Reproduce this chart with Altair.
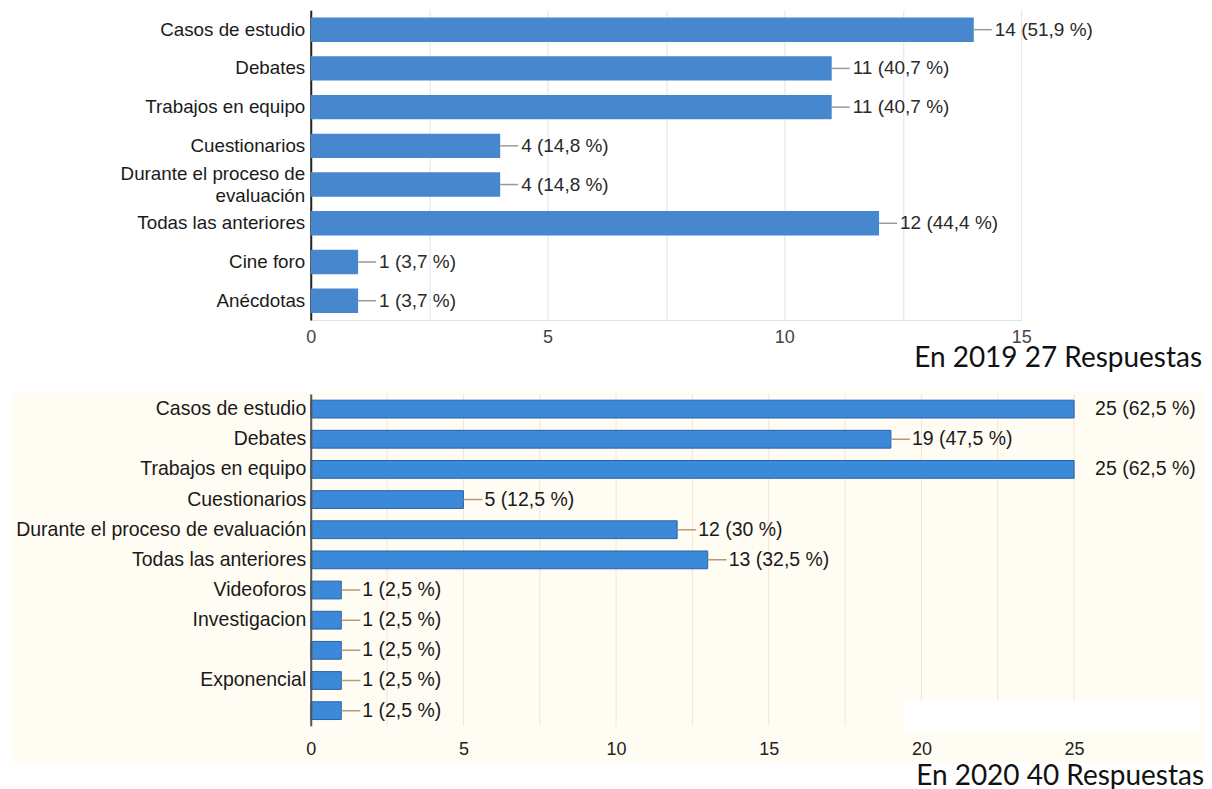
import altair as alt
import pandas as pd

# ---- data ----
cats19 = ["Casos de estudio", "Debates", "Trabajos en equipo", "Cuestionarios",
          "Durante el proceso de evaluación", "Todas las anteriores", "Cine foro", "Anécdotas"]
vals19 = [14, 11, 11, 4, 4, 12, 1, 1]
labs19 = ["14 (51,9 %)", "11 (40,7 %)", "11 (40,7 %)", "4 (14,8 %)", "4 (14,8 %)",
          "12 (44,4 %)", "1 (3,7 %)", "1 (3,7 %)"]

cats20 = ["Casos de estudio", "Debates", "Trabajos en equipo", "Cuestionarios",
          "Durante el proceso de evaluación", "Todas las anteriores", "Videoforos",
          "Investigacion", " ", "Exponencial", "  "]
vals20 = [25, 19, 25, 5, 12, 13, 1, 1, 1, 1, 1]
labs20 = ["25 (62,5 %)", "19 (47,5 %)", "25 (62,5 %)", "5 (12,5 %)", "12 (30 %)",
          "13 (32,5 %)", "1 (2,5 %)", "1 (2,5 %)", "1 (2,5 %)", "1 (2,5 %)", "1 (2,5 %)"]

ticks19 = [0, 2.5, 5, 7.5, 10, 12.5, 15]
ticks20 = [0, 2.5, 5, 7.5, 10, 12.5, 15, 17.5, 20, 22.5, 25]
title19 = "En 2019 27 Respuestas"
title20 = "En 2020 40 Respuestas"

df19 = pd.DataFrame({"cat": cats19, "n": vals19, "lab": labs19})
df20 = pd.DataFrame({"cat": cats20, "n": vals20, "lab": labs20})
grid20 = pd.DataFrame({"n": ticks20})

FONT = "Liberation Sans"
W19, H19 = 711, 310
W20, H20 = 764, 332

# ---- top chart (2019) ----
wrap_test = "datum.value == 'Durante el proceso de evaluación'"
y19 = alt.Y("cat:N", sort=cats19, title=None,
            scale=alt.Scale(paddingInner=0.37, paddingOuter=0.185),
            axis=alt.Axis(labelFont=FONT, labelFontSize=18.8, labelColor="#1a1a1a",
                          labelPadding=6, ticks=False, domainColor="#222", domainWidth=2,
                          minExtent=303, labelLimit=400, grid=False, labelLineHeight=22,
                          labelOffset={"condition": {"test": wrap_test, "value": -11},
                                       "value": 0},
                          labelExpr=wrap_test + " ? ['Durante el proceso de', 'evaluación']"
                                                " : datum.label"))
x19 = alt.X("n:Q", title=None, scale=alt.Scale(domain=[0, 15], nice=False),
            axis=alt.Axis(values=ticks19, labelExpr="datum.value % 5 == 0 ? datum.label : ''",
                          grid=True, gridColor="#e2e2e2", ticks=False, tickSize=0,
                          domainColor="#e2e2e2", labelFont=FONT, labelFontSize=18,
                          labelColor="#444", labelPadding=8, labelFlush=False,
                          labelOverlap=False))

base19 = alt.Chart(df19)
bars19 = base19.mark_bar(color="#4687ce").encode(x=x19, y=y19)
conn19 = base19.mark_rule(color="#999999", strokeWidth=1.5, x2Offset=18).encode(
    x=x19, x2="n:Q", y=y19)
text19 = base19.mark_text(align="left", baseline="middle", dx=21, font=FONT,
                          fontSize=19, color="#2a2a2a").encode(x=x19, y=y19, text="lab:N")

top = alt.layer(bars19, conn19, text19).properties(
    width=W19, height=H19,
    title=alt.TitleParams(title19, orient="bottom", anchor="end", frame="group", dx=181,
                          offset=-1, font="Lato", fontSize=28, fontWeight="normal",
                          color="#111"))

# ---- bottom chart (2020) ----
y20 = alt.Y("cat:N", sort=cats20, title=None,
            scale=alt.Scale(paddingInner=0.41, paddingOuter=0.205),
            axis=alt.Axis(labelFont=FONT, labelFontSize=19.5, labelColor="#1a1a1a",
                          labelPadding=5, ticks=False, domainColor="#555", domainWidth=2,
                          minExtent=301, labelLimit=400, grid=False, zindex=1))
x20 = alt.X("n:Q", title=None, scale=alt.Scale(domain=[0, 25], nice=False),
            axis=alt.Axis(values=ticks20, labelExpr="datum.value % 5 == 0 ? datum.label : ''",
                          grid=False, ticks=False, tickSize=0, domain=False, labelFont=FONT,
                          labelFontSize=18, labelColor="#222", labelPadding=15,
                          labelFlush=False, labelOverlap=False, zindex=1))

one = alt.Data(values=[{"k": 0}])
cream = alt.Chart(one).mark_rect(color="#fffcf3").encode(
    x=alt.value(-299), x2=alt.value(W20 + 130), y=alt.value(-3), y2=alt.value(H20 + 37))
grid = alt.Chart(grid20).mark_rule(color="#f6e4d2", strokeWidth=1).encode(x=x20)
patch = alt.Chart(one).mark_rect(color="#ffffff").encode(
    x=alt.value(594), x2=alt.value(889), y=alt.value(307), y2=alt.value(339))

base20 = alt.Chart(df20)
bars20 = base20.mark_bar(color="#3b89d8", stroke="#2662ad", strokeWidth=1).encode(x=x20, y=y20)
conn20 = base20.mark_rule(color="#b39a7a", strokeWidth=1.5, x2Offset=19, clip=True).encode(
    x=x20, x2="n:Q", y=y20)
text20 = base20.mark_text(align="left", baseline="middle", dx=21, font=FONT,
                          fontSize=19.5, color="#1a1a1a").encode(x=x20, y=y20, text="lab:N")

bottom = alt.layer(cream, grid, patch, bars20, conn20, text20).properties(
    width=W20, height=H20,
    title=alt.TitleParams(title20, orient="bottom", anchor="end", frame="group", dx=130,
                          offset=0, font="Lato", fontSize=28, fontWeight="normal",
                          color="#111"))

chart = alt.vconcat(top, bottom, spacing=18).properties(
    padding={"left": 0, "top": 2, "right": 0, "bottom": 0}
).configure_view(stroke=None)

chart.save("out.html", embed_options={"renderer": "svg", "actions": False})
